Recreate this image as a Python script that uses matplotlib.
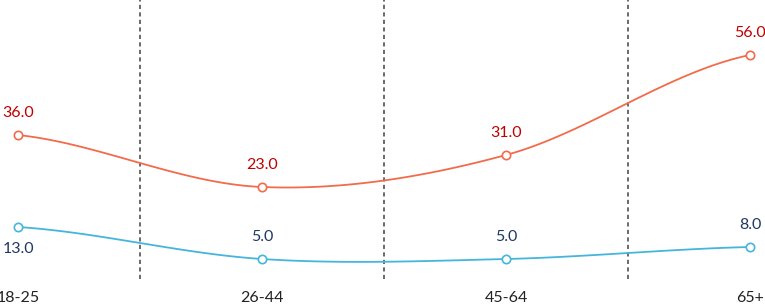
import numpy as np
import matplotlib.pyplot as plt

categories = ['18-25', '26-44', '45-64', '65+']
series_a = [36.0, 23.0, 31.0, 56.0]
series_b = [13.0, 5.0, 5.0, 8.0]

plt.rcParams['font.family'] = ['Lato', 'DejaVu Sans']


def smooth(xs, ys, n=40, t=0.5):
    # catmull-rom style curve through the points
    xs = np.asarray(xs, float)
    ys = np.asarray(ys, float)
    px = np.concatenate([[2 * xs[0] - xs[1]], xs, [2 * xs[-1] - xs[-2]]])
    py = np.concatenate([[ys[0]], ys, [ys[-1]]])
    out_x, out_y = [], []
    for i in range(1, len(px) - 2):
        m1 = t * (py[i + 1] - py[i - 1]) / (px[i + 1] - px[i - 1]) * (px[i + 1] - px[i])
        m2 = t * (py[i + 2] - py[i]) / (px[i + 2] - px[i]) * (px[i + 1] - px[i])
        s = np.linspace(0, 1, n)
        h00 = 2 * s**3 - 3 * s**2 + 1
        h10 = s**3 - 2 * s**2 + s
        h01 = -2 * s**3 + 3 * s**2
        h11 = s**3 - s**2
        out_x.append(px[i] + s * (px[i + 1] - px[i]))
        out_y.append(h00 * py[i] + h10 * m1 * 2 + h01 * py[i + 1] + h11 * m2 * 2)
    return np.concatenate(out_x), np.concatenate(out_y)


fig = plt.figure(figsize=(7.65, 3.07), dpi=100)
ax = fig.add_axes([18 / 765, 28 / 307, 732 / 765, 279 / 307])
x = np.arange(len(categories))

for xv in [0.5, 1.5, 2.5]:
    ax.axvline(xv, color='#505050', linestyle=(0, (2.5, 2)), linewidth=1.2, zorder=1)

for ys, lc, tc in [(series_a, '#F26B4A', '#C00000'), (series_b, '#45B5DC', '#1F3864')]:
    sx, sy = smooth(x, ys)
    ax.plot(sx, sy, color=lc, linewidth=1.3, zorder=2, clip_on=False)
    ax.plot(x, ys, 'o', markersize=6, markerfacecolor='white', markeredgecolor=lc,
            markeredgewidth=1.2, zorder=3, clip_on=False)
    for i, v in enumerate(ys):
        off = -16 if (ys is series_b and i == 0) else 16
        ax.annotate(f'{v:.1f}', (i, v), xytext=(0, off), textcoords='offset points',
                    ha='center', va='center', fontsize=11.5, color=tc)

ax.set_xlim(0, 3)
ax.set_ylim(0, 69.75)
ax.set_xticks(x)
ax.set_xticklabels(categories, fontsize=11.5, color='#222222')
ax.tick_params(axis='x', length=0, pad=9)
ax.set_yticks([])
for sp in ax.spines.values():
    sp.set_visible(False)

fig.savefig('out.png', dpi=100)
